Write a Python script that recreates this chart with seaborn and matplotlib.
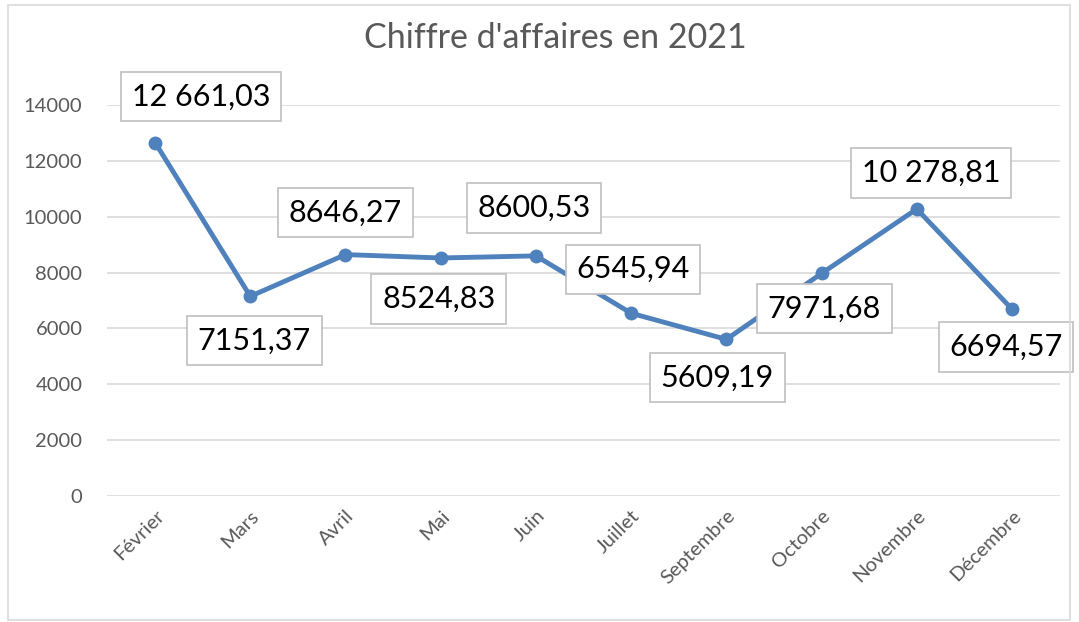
import matplotlib
matplotlib.use("Agg")
import matplotlib.pyplot as plt
import seaborn as sns
import pandas as pd
from matplotlib.patches import Rectangle

mois = ['Février', 'Mars', 'Avril', 'Mai', 'Juin', 'Juillet',
        'Septembre', 'Octobre', 'Novembre', 'Décembre']
ca = [12661.03, 7151.37, 8646.27, 8524.83, 8600.53, 6545.94,
      5609.19, 7971.68, 10278.81, 6694.57]
yticks = [0, 2000, 4000, 6000, 8000, 10000, 12000, 14000]

# décalage des étiquettes (pixels) par rapport au point
offsets = [(46, 46), (4, -44), (0, 42), (-2, -41), (-2, 48),
           (2, 44), (-9, -38), (3, -35), (14, 36), (-6, -38)]


def fr(v):
    s = f"{v:.2f}".replace('.', ',')
    if v >= 10000:
        s = f"{v:,.2f}".replace(',', ' ').replace('.', ',')
    return s


df = pd.DataFrame({'mois': mois, 'ca': ca})

sns.set_style('white')
plt.rcParams['font.family'] = ['Lato', 'DejaVu Sans']

fig = plt.figure(figsize=(10.79, 6.22), dpi=100)
ax = fig.add_axes([0.0996, 0.2026, 0.8824, 0.6284])

fig.patches.append(Rectangle((8 / 1079, 2 / 622), 1062 / 1079, 615 / 622,
                             transform=fig.transFigure, fill=False,
                             edgecolor='#d9d9d9', linewidth=1.2))

sns.lineplot(data=df, x='mois', y='ca', sort=False, ax=ax, color='#4f81bd',
             linewidth=3.5, marker='o', markersize=10, markeredgewidth=0)

for i, (v, off) in enumerate(zip(ca, offsets)):
    ax.annotate(fr(v), (i, v), xytext=off, textcoords='offset pixels',
                ha='center', va='center', fontsize=22, color='black',
                bbox=dict(boxstyle='square,pad=0.35', fc='white',
                          ec='#bfbfbf', lw=1.2),
                zorder=5)

ax.set_xlim(-0.5, len(mois) - 0.5)
ax.set_ylim(0, 14000)
ax.set_yticks(yticks)
ax.yaxis.grid(True, color='#d9d9d9', linewidth=1.2)
ax.set_axisbelow(True)
for s in ax.spines.values():
    s.set_visible(False)
ax.tick_params(axis='y', length=0, pad=18, labelsize=14.5, labelcolor='#595959')
ax.tick_params(axis='x', length=0, pad=8, labelsize=14.5, labelcolor='#595959')
plt.setp(ax.get_xticklabels(), rotation=45, ha='right', rotation_mode='anchor')
ax.set_xlabel('')
ax.set_ylabel('')

fig.text(555 / 1079, 1 - 38 / 622, "Chiffre d'affaires en 2021",
         ha='center', va='center', fontsize=24.5, color='#595959')

fig.savefig('out.png', dpi=100)
